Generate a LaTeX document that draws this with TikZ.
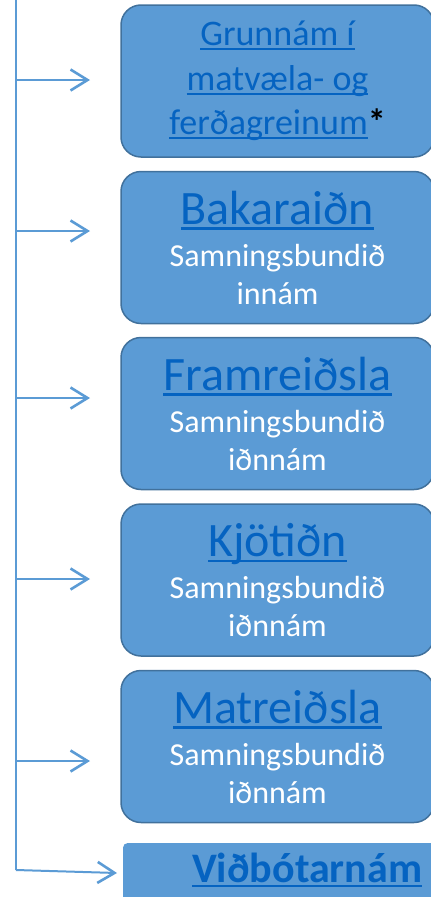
\documentclass[tikz,border=0pt]{standalone}
\usepackage{fontspec}
\setmainfont{Carlito}
\usetikzlibrary{arrows.meta}
\definecolor{boxblue}{RGB}{91,155,213}
\definecolor{boxedge}{RGB}{65,113,156}
\definecolor{linkblue}{RGB}{5,99,193}
\newcommand{\lnk}[1]{{\color{linkblue}\setbox0\hbox{#1}\rlap{\rule[-0.12em]{\wd0}{0.055em}}\box0}}
\newcommand{\ttl}[1]{\fontsize{48}{48}\selectfont\lnk{#1}}
\tikzset{trunk/.style={draw=boxblue,line width=2pt},arrowout/.style={-{Straight Barb[length=17pt,width=21pt,line width=2.6pt]},draw=boxblue,line width=2pt},box/.style={rectangle, rounded corners=20pt, minimum width=313pt, minimum height=152pt, fill=boxblue, draw=boxedge, line width=1.5pt, text=white, align=center, inner sep=0pt, font=\fontsize{32}{38}\selectfont},lastbox/.style={rectangle, rounded corners=4pt, anchor=north west, minimum width=368pt, fill=boxblue, inner sep=0pt, text height=39pt, text depth=41pt, align=center, font=\bfseries\fontsize{42}{42}\selectfont}}

\begin{document}
\begin{tikzpicture}[x=1pt,y=1pt]
\useasboundingbox (0,0) rectangle (431,-897);
\clip (0,0) rectangle (431,-897);

%trunk
\coordinate (top) at (16,0);
\coordinate (foot) at (16,-870);
\draw[trunk] (top) -- (foot);

%boxes
\node[box,font=\fontsize{36}{44.5}\selectfont] (grunn) at (277.5,-81) {\lnk{Grunnám í}\\\lnk{matvæla- og}\\\lnk{ferðagreinum}{\color{black}\textbf{*}}};
\node[box] (bakar) at (277.5,-247.5) {\ttl{Bakaraiðn}\\[4pt]Samningsbundið\\innám};
\node[box] (framr) at (277.5,-413.5) {\ttl{Framreiðsla}\\[4pt]Samningsbundið\\iðnnám};
\node[box] (kjot) at (277.5,-580) {\ttl{Kjötiðn}\\[4pt]Samningsbundið\\iðnnám};
\node[box] (matr) at (277.5,-746.5) {\ttl{Matreiðsla}\\[4pt]Samningsbundið\\iðnnám};
\node[lastbox] (vidbot) at (123,-843) {\lnk{Viðbótarnám}};

%arrows
\foreach \y/\n in {80/1,231/2,398/3,579/4,761/5}{
  \coordinate (s\n) at (16,-\y);
  \coordinate (e\n) at (90,-\y);
  \draw[arrowout] (s\n) -- (e\n);
}
\coordinate (e6) at (117,-873);
\draw[arrowout] (foot) -- (e6);

\end{tikzpicture}
\end{document}
